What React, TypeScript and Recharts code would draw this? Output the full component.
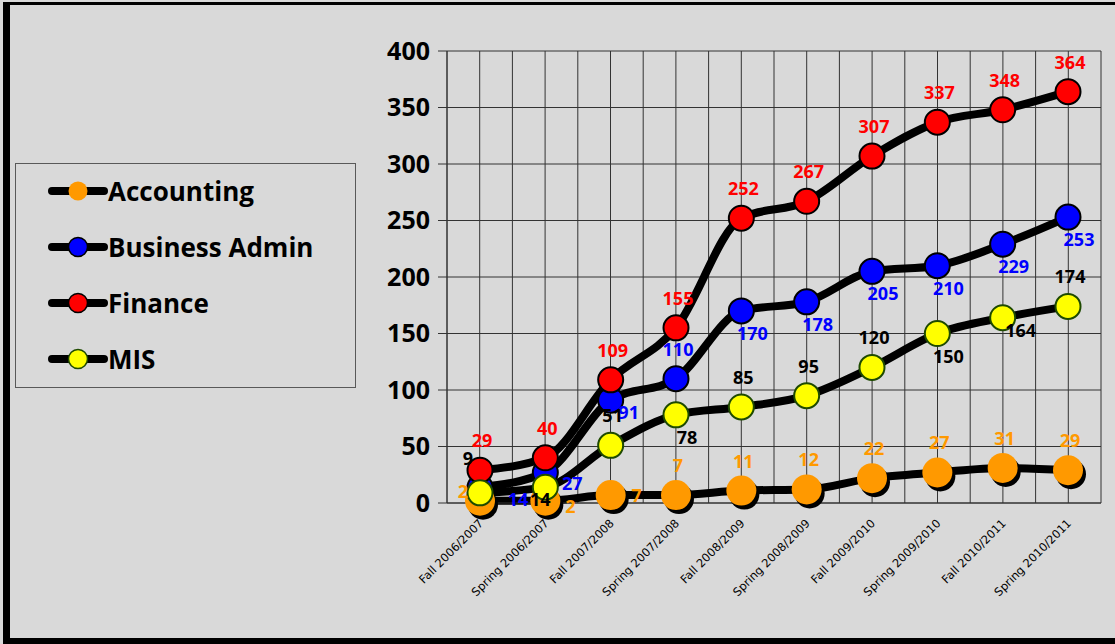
import { LineChart, Line, XAxis, YAxis, CartesianGrid, LabelList } from 'recharts';

const terms = [
  'Fall 2006/2007', 'Spring 2006/2007', 'Fall 2007/2008', 'Spring 2007/2008', 'Fall 2008/2009',
  'Spring 2008/2009', 'Fall 2009/2010', 'Spring 2009/2010', 'Fall 2010/2011', 'Spring 2010/2011',
];
const accounting = [2, 2, 7, 7, 11, 12, 22, 27, 31, 29];
const businessAdmin = [14, 27, 91, 110, 170, 178, 205, 210, 229, 253];
const finance = [29, 40, 109, 155, 252, 267, 307, 337, 348, 364];
const mis = [9, 14, 51, 78, 85, 95, 120, 150, 164, 174];
const yTicks = [0, 50, 100, 150, 200, 250, 300, 350, 400];

// where each data label sits relative to its marker
const accPlace = ['leftHigh', 'rightLow', 'right', 'top', 'top', 'top', 'top', 'top', 'top', 'top'];
const baPlace = ['farRight', 'rightBelow', 'bottomRight', 'top', 'bottom', 'bottom', 'bottom', 'bottom', 'bottom', 'bottom'];
const finPlace = ['top', 'top', 'top', 'top', 'top', 'top', 'top', 'top', 'top', 'top'];
const misPlace = ['topLeft', 'bottomLeft', 'top', 'bottom', 'top', 'top', 'top', 'bottom', 'bottomRight', 'top'];

const offsets: Record<string, [number, number]> = {
  top: [2, -30],
  bottom: [11, 22],
  right: [26, 0],
  rightLow: [25, 5],
  rightBelow: [27, 11],
  farRight: [38, 12],
  leftHigh: [-17, -10],
  bottomRight: [18, 12],
  topLeft: [-12, -35],
  bottomLeft: [-5, 12],
};

const data = terms.map((term, i) => ({
  term,
  accounting: accounting[i],
  businessAdmin: businessAdmin[i],
  finance: finance[i],
  mis: mis[i],
}));

const series = [
  { key: 'accounting', name: 'Accounting', color: '#ff9900', stroke: 'none', text: '#ff9900', r: 15, place: accPlace, shadow: true },
  { key: 'businessAdmin', name: 'Business Admin', color: '#0000ff', stroke: '#000', text: '#0000ff', r: 12.5, place: baPlace, shadow: false },
  { key: 'finance', name: 'Finance', color: '#ff0000', stroke: '#000', text: '#ff0000', r: 12.5, place: finPlace, shadow: false },
  { key: 'mis', name: 'MIS', color: '#ffff00', stroke: '#1e4a00', text: '#000', r: 12.5, place: misPlace, shadow: false },
];

const makeDot = (s: (typeof series)[number]) => (props: any) => {
  const { cx, cy, index } = props;
  if (cx == null || cy == null) return <g key={index} />;
  return (
    <g key={index}>
      {s.shadow && <circle cx={cx + 3} cy={cy + 4} r={s.r} fill="#000" />}
      <circle cx={cx} cy={cy} r={s.r} fill={s.color} stroke={s.stroke} strokeWidth={2} />
    </g>
  );
};

const makeLabel = (color: string, place: string[]) => (props: any) => {
  const { x, y, value, index } = props;
  const [dx, dy] = offsets[place[index] ?? 'top'];
  return (
    <text
      x={x + dx}
      y={y + dy}
      textAnchor="middle"
      dominantBaseline="central"
      fill={color}
      fontFamily="'Open Sans', sans-serif"
      fontWeight={700}
      fontSize={18}
    >
      {value}
    </text>
  );
};

const XTick = (props: any) => {
  const { x, y, payload } = props;
  const tx = x + 4;
  const ty = y + 13;
  return (
    <text
      x={tx}
      y={ty}
      textAnchor="end"
      transform={`rotate(-45, ${tx}, ${ty})`}
      fontFamily="'DejaVu Sans', sans-serif"
      fontSize={11.5}
      fill="#000"
    >
      {payload.value}
    </text>
  );
};

export default function App() {
  return (
    <div style={{ position: 'absolute', left: 0, top: 0, width: 1115, height: 644, background: '#d9d9d9', overflow: 'hidden' }}>
      <svg width={0} height={0} style={{ position: 'absolute' }}>
        <defs>
          <filter id="accShadow" x="-50%" y="-50%" width="200%" height="200%">
            <feDropShadow dx={3} dy={4} stdDeviation={0.5} floodColor="#000" floodOpacity={1} />
          </filter>
        </defs>
      </svg>
      <style>{`.recharts-line-curve.acc-curve { filter: url(#accShadow); }`}</style>
      <div
        style={{
          position: 'absolute', left: 3, top: 2, width: 1130, height: 633,
          borderLeft: '7px solid #000', borderTop: '3px solid #000', borderBottom: '6px solid #000',
        }}
      />
      <div style={{ position: 'absolute', left: 0, top: 0 }}>
        <LineChart width={1115} height={644} data={data} margin={{ top: 51, right: 14, bottom: 10, left: 387 }}>
          <CartesianGrid
            stroke="#333"
            strokeWidth={1}
            verticalCoordinatesGenerator={({ offset }: any) =>
              Array.from({ length: 21 }, (_, i) => offset.left + (i * offset.width) / 20)
            }
          />
          <XAxis
            dataKey="term"
            height={131}
            padding={{ left: 33, right: 33 }}
            interval={0}
            tickLine={false}
            axisLine={{ stroke: '#333' }}
            tick={<XTick />}
          />
          <YAxis
            domain={[0, 400]}
            ticks={yTicks}
            width={60}
            tickSize={9}
            tickMargin={8}
            axisLine={{ stroke: '#333' }}
            tickLine={{ stroke: '#333' }}
            tick={{ fill: '#000', fontSize: 25, fontWeight: 700, fontFamily: "'Open Sans', sans-serif" }}
          />
          {series.map((s) => (
            <Line
              key={s.key}
              className={s.shadow ? 'acc-curve' : undefined}
              type="monotone"
              dataKey={s.key}
              name={s.name}
              stroke="#000"
              strokeWidth={8}
              dot={makeDot(s)}
              activeDot={false}
              isAnimationActive={false}
            >
              <LabelList dataKey={s.key} content={makeLabel(s.text, s.place)} />
            </Line>
          ))}
        </LineChart>
      </div>
      <div
        style={{
          position: 'absolute', left: 15, top: 163, width: 339, height: 223,
          border: '1px solid #595959', fontFamily: "'Open Sans', sans-serif",
        }}
      >
        {series.map((s, i) => (
          <div
            key={s.key}
            style={{ position: 'absolute', left: 32, top: 12 + i * 56, height: 30, display: 'flex', alignItems: 'center' }}
          >
            <svg width={60} height={30}>
              <line x1={4} y1={15} x2={56} y2={15} stroke="#000" strokeWidth={8} strokeLinecap="round" />
              <circle cx={30} cy={15} r={9.5} fill={s.color} stroke={s.stroke === 'none' ? 'none' : s.stroke} strokeWidth={1.5} />
            </svg>
            <span style={{ fontSize: 26, fontWeight: 700, color: '#000', lineHeight: '30px', marginLeft: 0 }}>{s.name}</span>
          </div>
        ))}
      </div>
    </div>
  );
}
